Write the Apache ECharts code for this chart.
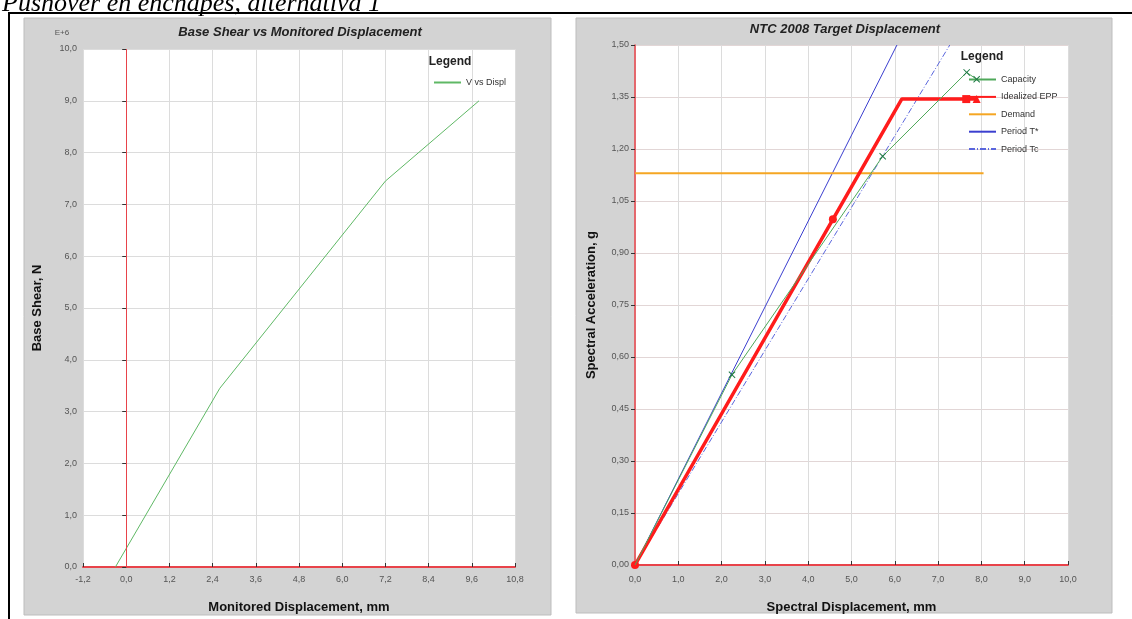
<!DOCTYPE html>
<html>
<head>
<meta charset="utf-8">
<title>Pushover en enchapes, alternativa 1</title>
<script src="https://cdn.jsdelivr.net/npm/echarts@6/dist/echarts.min.js"></script>
<style>
  html, body { margin: 0; padding: 0; background: #ffffff; }
  #chart { width: 1132px; height: 619px; }
</style>
</head>
<body>
<div id="chart"></div>
<script>
// Left panel: base shear (x 1e6 N) against monitored displacement (mm)
const shearDispl = [-0.3, 2.6, 7.2, 9.8];
const shearValue = [0.0, 3.45, 7.45, 9.0];

// Right panel: spectral displacement (mm) / spectral acceleration (g)
const capacityX = [0.0, 2.24, 5.72, 7.66, 7.89];
const capacityY = [0.0, 0.549, 1.179, 1.421, 1.401];

const eppX = [0.0, 4.57, 6.16, 7.65, 7.89];
const eppY = [0.0, 0.997, 1.344, 1.344, 1.344];
const eppSymbols = ['circle', 'circle', 'none', 'rect', 'triangle'];

const demandX = [0.0, 8.05];
const demandY = [1.13, 1.13];

const periodTStarX = [0.0, 6.05];
const periodTStarY = [0.0, 1.5];

const periodTcX = [0.0, 7.27];
const periodTcY = [0.0, 1.5];

const legendRight = ['Capacity', 'Idealized EPP', 'Demand', 'Period T*', 'Period Tc'];

const pairs = (xs, ys) => xs.map((x, i) => [x, ys[i]]);
const comma = d => v => Number(v).toFixed(d).replace('.', ',');

const crossPath = 'path://M0,1L1,0L5,4L9,0L10,1L6,5L10,9L9,10L5,6L1,10L0,9L4,5Z';

const labelStyle = { color: '#555', fontSize: 9, fontFamily: 'Liberation Sans, Arial, sans-serif' };
const nameStyle = { color: '#111', fontSize: 13, fontWeight: 'bold', fontFamily: 'Liberation Sans, Arial, sans-serif' };
const titleStyle = { fill: '#222', fontSize: 13, fontWeight: 'bold', fontStyle: 'italic', fontFamily: 'Liberation Sans, Arial, sans-serif' };

const chart = echarts.init(document.getElementById('chart'));

chart.setOption({
  backgroundColor: '#ffffff',
  animation: false,
  graphic: [
    // caption above the table
    { type: 'text', left: 2, top: -9, z: 1,
      style: { text: 'Pushover en enchapes, alternativa 1', fill: '#000', fontSize: 26, fontStyle: 'italic',
               fontFamily: 'Liberation Serif, DejaVu Serif, serif' } },
    // table borders
    { type: 'rect', shape: { x: 8, y: 12, width: 1124, height: 2 }, style: { fill: '#000' }, z: 1 },
    { type: 'rect', shape: { x: 8, y: 12, width: 2, height: 607 }, style: { fill: '#000' }, z: 1 },
    // gray chart panels
    { type: 'rect', shape: { x: 24, y: 18, width: 527, height: 597 }, style: { fill: '#d3d3d3', stroke: '#bdbdbd', lineWidth: 1 }, z: -100 },
    { type: 'rect', shape: { x: 576, y: 18, width: 536, height: 595 }, style: { fill: '#d3d3d3', stroke: '#bdbdbd', lineWidth: 1 }, z: -100 },
    // titles
    { type: 'text', x: 300, y: 32, style: Object.assign({ text: 'Base Shear vs Monitored Displacement', align: 'center', verticalAlign: 'middle' }, titleStyle) },
    { type: 'text', x: 845, y: 29, style: Object.assign({ text: 'NTC 2008 Target Displacement', align: 'center', verticalAlign: 'middle' }, titleStyle) },
    // exponent of the shear axis
    { type: 'text', x: 62, y: 33, style: { text: 'E+6', fill: '#555', fontSize: 8, align: 'center', verticalAlign: 'middle', fontFamily: 'Liberation Sans, Arial, sans-serif' } },
    // legend headings
    { type: 'text', x: 450, y: 62, style: { text: 'Legend', fill: '#222', fontSize: 12, fontWeight: 'bold', align: 'center', verticalAlign: 'middle', fontFamily: 'Liberation Sans, Arial, sans-serif' } },
    { type: 'text', x: 982, y: 57, style: { text: 'Legend', fill: '#222', fontSize: 12, fontWeight: 'bold', align: 'center', verticalAlign: 'middle', fontFamily: 'Liberation Sans, Arial, sans-serif' } }
  ],
  legend: [
    { data: ['V vs Displ'], orient: 'vertical', left: 428, top: 73, itemWidth: 27, itemHeight: 10,
      itemStyle: { opacity: 0 },
      textStyle: { color: '#333', fontSize: 9, fontFamily: 'Liberation Sans, Arial, sans-serif' } },
    { data: legendRight, orient: 'vertical', left: 963, top: 70, itemWidth: 27, itemHeight: 10, itemGap: 8.4,
      itemStyle: { opacity: 0 },
      textStyle: { color: '#333', fontSize: 9, fontFamily: 'Liberation Sans, Arial, sans-serif' } }
  ],
  grid: [
    { left: 83, top: 49, width: 432, height: 523, show: true, backgroundColor: '#ffffff', borderWidth: 0 },
    { left: 635, top: 45, width: 433, height: 522, show: true, backgroundColor: '#ffffff', borderWidth: 0 }
  ],
  xAxis: [
    { gridIndex: 0, type: 'value', min: -1.2, max: 10.8, interval: 1.2,
      name: 'Monitored Displacement, mm', nameLocation: 'middle', nameGap: 34, nameTextStyle: nameStyle,
      axisLine: { show: true, onZero: false, lineStyle: { color: '#e8434a', width: 2 } },
      axisTick: { show: true, inside: true, length: 4, lineStyle: { color: '#333' } },
      axisLabel: Object.assign({ margin: 8, formatter: comma(1) }, labelStyle),
      splitLine: { show: true, lineStyle: { color: '#dcdcdc' } } },
    { gridIndex: 1, type: 'value', min: 0, max: 10, interval: 1,
      name: 'Spectral Displacement, mm', nameLocation: 'middle', nameGap: 36, nameTextStyle: nameStyle,
      axisLine: { show: true, onZero: false, lineStyle: { color: '#e8434a', width: 2 } },
      axisTick: { show: true, inside: true, length: 4, lineStyle: { color: '#333' } },
      axisLabel: Object.assign({ margin: 10, formatter: comma(1) }, labelStyle),
      splitLine: { show: true, lineStyle: { color: '#dcdcdc' } } }
  ],
  yAxis: [
    { gridIndex: 0, type: 'value', min: 0, max: 10, interval: 1,
      name: 'Base Shear, N', nameLocation: 'middle', nameGap: 39, nameTextStyle: nameStyle,
      axisLine: { show: false },
      axisTick: { show: true, length: 4, lineStyle: { color: '#333' } },
      axisLabel: Object.assign({ margin: 6, formatter: comma(1) }, labelStyle),
      splitLine: { show: true, lineStyle: { color: '#dcdcdc' } } },
    { gridIndex: 1, type: 'value', min: 0, max: 1.5, interval: 0.15,
      name: 'Spectral Acceleration, g', nameLocation: 'middle', nameGap: 37, nameTextStyle: nameStyle,
      axisLine: { show: true, onZero: false, lineStyle: { color: '#e8434a', width: 1.5 } },
      axisTick: { show: true, length: 4, lineStyle: { color: '#333' } },
      axisLabel: Object.assign({ margin: 6, formatter: comma(2) }, labelStyle),
      splitLine: { show: true, lineStyle: { color: '#e2d6d6' } } }
  ],
  series: [
    { name: 'V vs Displ', type: 'line', xAxisIndex: 0, yAxisIndex: 0,
      data: pairs(shearDispl, shearValue), symbol: 'none',
      lineStyle: { color: '#5fb865', width: 1 }, itemStyle: { color: '#5fb865' },
      markLine: { silent: true, symbol: 'none', label: { show: false },
        lineStyle: { color: '#e8434a', width: 1, type: 'solid' }, data: [{ xAxis: 0 }] } },
    { name: 'Period T*', type: 'line', xAxisIndex: 1, yAxisIndex: 1,
      data: pairs(periodTStarX, periodTStarY), symbol: 'none',
      lineStyle: { color: '#3b3fcf', width: 1 }, itemStyle: { color: '#3b3fcf' } },
    { name: 'Period Tc', type: 'line', xAxisIndex: 1, yAxisIndex: 1,
      data: pairs(periodTcX, periodTcY), symbol: 'none',
      lineStyle: { color: '#5a66dd', width: 1, type: [6, 2, 1, 2] }, itemStyle: { color: '#5a66dd' } },
    { name: 'Demand', type: 'line', xAxisIndex: 1, yAxisIndex: 1,
      data: pairs(demandX, demandY), symbol: 'none',
      lineStyle: { color: '#f5a623', width: 2 }, itemStyle: { color: '#f5a623' } },
    { name: 'Capacity', type: 'line', xAxisIndex: 1, yAxisIndex: 1, z: 4,
      data: pairs(capacityX, capacityY).map((p, i) => i === 0 ? { value: p, symbol: 'none' } : p),
      symbol: crossPath, symbolSize: 7, showAllSymbol: true,
      lineStyle: { color: '#4fa85a', width: 1 }, itemStyle: { color: '#1f7a45' } },
    { name: 'Idealized EPP', type: 'line', xAxisIndex: 1, yAxisIndex: 1, z: 3,
      data: pairs(eppX, eppY).map((p, i) => ({ value: p, symbol: eppSymbols[i] })),
      symbol: 'none', symbolSize: 8, showAllSymbol: true,
      lineStyle: { color: '#ff1c1c', width: 3.5 }, itemStyle: { color: '#ff1c1c' } }
  ]
});
</script>
</body>
</html>
